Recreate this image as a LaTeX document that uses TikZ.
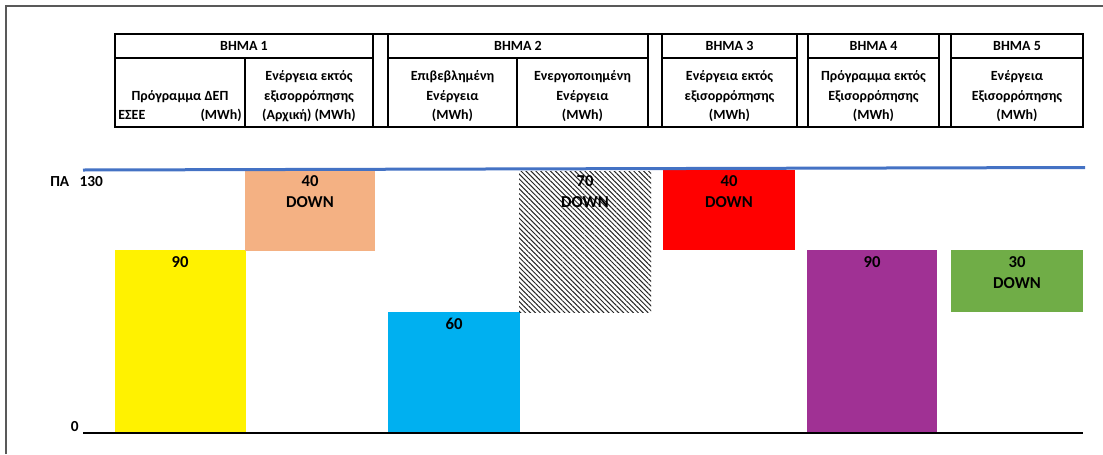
\documentclass[tikz,border=0pt]{standalone}
\usepackage{fontspec}
\setmainfont{Carlito}
\usetikzlibrary{patterns.meta}

\definecolor{salmon}{HTML}{F4B183}
\definecolor{skyblue}{HTML}{00B0F0}
\definecolor{plum}{HTML}{A03194}
\definecolor{leaf}{HTML}{70AD47}
\definecolor{limit}{HTML}{4472C4}

\begin{document}
\begin{tikzpicture}[x=0.75pt,y=-0.75pt,
	tab/.style={line width=2pt},
	hdr/.style={font=\fontsize{10.5}{14.6}\selectfont\bfseries,align=center,anchor=base,inner sep=0pt},
	val/.style={font=\fontsize{12.5}{15.75}\selectfont\bfseries,align=center,anchor=base,inner sep=0pt},]

\useasboundingbox (0,0) rectangle (1103,454);
\draw[black!65,line width=1pt] (6,454) -- (6,6) -- (1103,6);

% header
\foreach \l/\r in {115/373,388/648,662/797,808/939,951/1083}
    \draw[tab] (\l,34) rectangle (\r,127) (\l,58) -- (\r,58);
\draw[tab] (115,34) rectangle (1083,127);
\draw[tab] (245,58) -- (245,127) (517,58) -- (517,127);

\node[hdr] (s1) at (244,50) {ΒΗΜΑ 1};
\node[hdr] (s2) at (518,50) {ΒΗΜΑ 2};
\node[hdr] (s3) at (729.5,50) {ΒΗΜΑ 3};
\node[hdr] (s4) at (873.5,50) {ΒΗΜΑ 4};
\node[hdr] (s5) at (1017,50) {ΒΗΜΑ 5};

% multi-line nodes sit on their last line
\node[hdr] (c1) at (180,100) {Πρόγραμμα ΔΕΠ};
\node[hdr,anchor=base west] (c1a) at (118,119.5) {ΕΣΕΕ};
\node[hdr,anchor=base east] (c1b) at (242,119.5) {(MWh)};
\node[hdr] (c2) at (309,119.5) {Ενέργεια εκτός\\εξισορρόπησης\\(Αρχική) (MWh)};
\node[hdr] (c3) at (452.5,119.5) {Επιβεβλημένη\\Ενέργεια\\(MWh)};
\node[hdr] (c4) at (582.5,119.5) {Ενεργοποιημένη\\Ενέργεια\\(MWh)};
\node[hdr] (c5) at (729.5,119.5) {Ενέργεια εκτός\\εξισορρόπησης\\(MWh)};
\node[hdr] (c6) at (873.5,119.5) {Πρόγραμμα εκτός\\Εξισορρόπησης\\(MWh)};
\node[hdr] (c7) at (1017,119.5) {Ενέργεια\\Εξισορρόπησης\\(MWh)};

% bars
\fill[yellow] (115,250) rectangle (246,433);
\fill[salmon] (245,170) rectangle (375,251);
\fill[skyblue] (388,312) rectangle (520,433);
\fill[pattern={Lines[angle=-45,distance=2.6pt,line width=0.75pt]},pattern color=black!85] (519,171) rectangle (651,312);
\fill[red] (663,170) rectangle (795,250);
\fill[plum] (807,250) rectangle (937,433);
\fill[leaf] (951,250) rectangle (1083,312);

\node[val] (b1) at (180,267) {90};
\node[val] (b2) at (310,207) {40\\DOWN};
\node[val] (b3) at (454,329) {60};
\node[val] (b4) at (585,207) {70\\DOWN};
\node[val] (b5) at (729,207) {40\\DOWN};
\node[val] (b6) at (872,267) {90};
\node[val] (b7) at (1017,288) {30\\DOWN};

% axis
\draw[limit,line width=2.25pt] (83,170) -- (1085,167.5);
\draw[line width=1.2pt] (83,433) -- (1083,433);
\node[hdr,anchor=base west,font=\fontsize{11.5}{14}\selectfont\bfseries] (top) at (50,186) {ΠΑ\ \ \ 130};
\node[hdr,anchor=base east,font=\fontsize{11.5}{14}\selectfont\bfseries] (zero) at (79,431) {0};
\end{tikzpicture}
\end{document}
